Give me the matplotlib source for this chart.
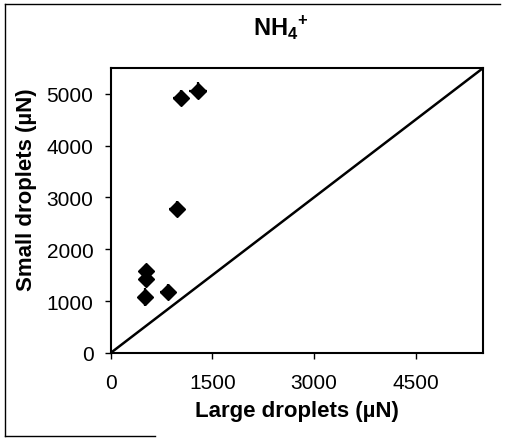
import matplotlib
matplotlib.use("Agg")
import matplotlib.pyplot as plt
from matplotlib.lines import Line2D

plt.rcParams['font.family'] = ['Liberation Sans', 'DejaVu Sans']
plt.rcParams['mathtext.fontset'] = 'custom'
plt.rcParams['mathtext.bf'] = 'Liberation Sans:bold'
plt.rcParams['mathtext.rm'] = 'Liberation Sans'

# NH4+ concentrations, large vs small droplets (µN)
large = [1034, 1286, 975, 517, 517, 502, 842]
small = [4920, 5060, 2780, 1580, 1420, 1070, 1180]
large_err = [110, 130, 120, 100, 100, 100, 110]
small_err = [150, 160, 150, 140, 150, 175, 150]

axis_max = 5500
x_ticks = [0, 1500, 3000, 4500]
y_ticks = [0, 1000, 2000, 3000, 4000, 5000]

fig = plt.figure(figsize=(5.06, 4.39), dpi=100)
ax = fig.add_axes([0.219, 0.194, 0.736, 0.649])

# 1:1 line
ax.plot([0, axis_max], [0, axis_max], color='black', lw=1.8)

ax.errorbar(large, small, xerr=large_err, yerr=small_err, fmt='D',
            color='black', ms=8, ecolor='black', elinewidth=1.6, capsize=0)

ax.set_xlim(0, axis_max)
ax.set_ylim(0, axis_max)
ax.set_xticks(x_ticks)
ax.set_yticks(y_ticks)
ax.tick_params(direction='out', length=4.5, width=1, labelsize=15)
ax.tick_params(axis='y', pad=8)
ax.tick_params(axis='x', pad=10)
for s in ax.spines.values():
    s.set_linewidth(1.5)

ax.set_xlabel('Large droplets (µN)', fontsize=16, fontweight='bold', labelpad=6)
ax.set_ylabel('Small droplets (µN)', fontsize=16, fontweight='bold')
ax.yaxis.set_label_coords(-0.198, 0.575)

fig.text(0.555, 0.935, r'$\mathbf{NH}_{\mathbf{4}}{}^{\mathbf{+}}$', ha='center',
         va='center', fontsize=17)

# outer frame
W, H = 506, 439
fig.add_artist(Line2D([5 / W, 5 / W], [1 - 5 / H, 1 - 437 / H], color='black', lw=1))
fig.add_artist(Line2D([5 / W, 500 / W], [1 - 5 / H, 1 - 5 / H], color='black', lw=1))
fig.add_artist(Line2D([5 / W, 155 / W], [1 - 437 / H, 1 - 437 / H], color='black', lw=1))

fig.savefig('out.png', dpi=100)
